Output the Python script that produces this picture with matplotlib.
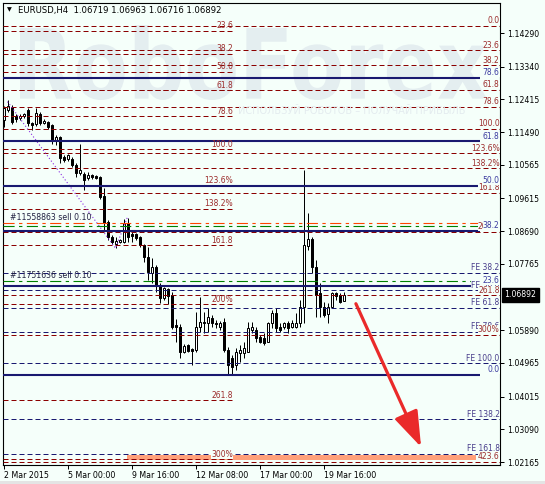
import numpy as np
import matplotlib
matplotlib.use('Agg')
import matplotlib.pyplot as plt
from matplotlib.patches import Rectangle, PathPatch
from matplotlib.textpath import TextPath
from matplotlib.font_manager import FontProperties
from matplotlib.transforms import Affine2D

plt.rcParams['font.family'] = ['DejaVu Sans']

# EURUSD H4 bars, index 0 = 2 Mar 2015 08:00
opens = [1.1183, 1.1211, 1.1220, 1.1194, 1.1189, 1.1194, 1.1211, 1.1175, 1.1172, 1.1200,
         1.1175, 1.1178, 1.1169, 1.1127, 1.1135, 1.1079, 1.1073, 1.1073, 1.1056, 1.1033,
         1.1031, 1.1019, 1.1028, 1.1025, 1.1022, 1.0968, 1.0895, 1.0853, 1.0833, 1.0838,
         1.0838, 1.0892, 1.0861, 1.0861, 1.0853, 1.0830, 1.0796, 1.0751, 1.0768, 1.0717,
         1.0680, 1.0706, 1.0689, 1.0604, 1.0598, 1.0528, 1.0547, 1.0536, 1.0533, 1.0598,
         1.0612, 1.0610, 1.0624, 1.0610, 1.0598, 1.0612, 1.0533, 1.0511, 1.0491, 1.0525,
         1.0525, 1.0528, 1.0590, 1.0590, 1.0570, 1.0567, 1.0556, 1.0610, 1.0638, 1.0598,
         1.0598, 1.0610, 1.0598, 1.0598, 1.0610, 1.0655, 1.0827, 1.0847, 1.0768, 1.0694,
         1.0655, 1.0635, 1.0655, 1.0694, 1.0689, 1.0672]
highs = [1.1223, 1.1240, 1.1226, 1.1200, 1.1200, 1.1203, 1.1217, 1.1178, 1.1217, 1.1206,
         1.1186, 1.1180, 1.1172, 1.1141, 1.1138, 1.1084, 1.1087, 1.1079, 1.1062, 1.1115,
         1.1036, 1.1036, 1.1031, 1.1028, 1.1025, 1.0991, 1.0901, 1.0858, 1.0853, 1.0847,
         1.0903, 1.0906, 1.0869, 1.0864, 1.0855, 1.0833, 1.0824, 1.0793, 1.0773, 1.0723,
         1.0711, 1.0709, 1.0697, 1.0621, 1.0607, 1.0550, 1.0550, 1.0539, 1.0641, 1.0683,
         1.0641, 1.0652, 1.0632, 1.0618, 1.0615, 1.0624, 1.0542, 1.0519, 1.0539, 1.0547,
         1.0556, 1.0612, 1.0612, 1.0598, 1.0576, 1.0581, 1.0612, 1.0646, 1.0652, 1.0610,
         1.0612, 1.0615, 1.0618, 1.0638, 1.0675, 1.1042, 1.0921, 1.0853, 1.0788, 1.0723,
         1.0669, 1.0666, 1.0697, 1.0697, 1.0694, 1.0696]
lows = [1.1163, 1.1206, 1.1172, 1.1178, 1.1183, 1.1189, 1.1166, 1.1155, 1.1166, 1.1169,
        1.1172, 1.1158, 1.1115, 1.1113, 1.1062, 1.1065, 1.1067, 1.1051, 1.1022, 1.1028,
        1.0985, 1.1014, 1.1016, 1.1016, 1.0960, 1.0872, 1.0844, 1.0833, 1.0821, 1.0836,
        1.0836, 1.0838, 1.0838, 1.0844, 1.0824, 1.0782, 1.0731, 1.0723, 1.0697, 1.0666,
        1.0675, 1.0663, 1.0592, 1.0556, 1.0511, 1.0525, 1.0528, 1.0491, 1.0528, 1.0584,
        1.0581, 1.0584, 1.0598, 1.0595, 1.0590, 1.0528, 1.0463, 1.0463, 1.0477, 1.0499,
        1.0511, 1.0528, 1.0581, 1.0556, 1.0553, 1.0547, 1.0556, 1.0595, 1.0584, 1.0584,
        1.0592, 1.0581, 1.0595, 1.0595, 1.0598, 1.0610, 1.0816, 1.0751, 1.0627, 1.0627,
        1.0627, 1.0610, 1.0652, 1.0675, 1.0666, 1.0672]
closes = [1.1217, 1.1223, 1.1178, 1.1186, 1.1194, 1.1200, 1.1175, 1.1169, 1.1203, 1.1175,
          1.1180, 1.1163, 1.1127, 1.1135, 1.1076, 1.1070, 1.1084, 1.1056, 1.1033, 1.1042,
          1.1014, 1.1028, 1.1022, 1.1019, 1.0966, 1.0892, 1.0853, 1.0838, 1.0841, 1.0844,
          1.0892, 1.0853, 1.0855, 1.0850, 1.0830, 1.0796, 1.0754, 1.0768, 1.0717, 1.0680,
          1.0709, 1.0686, 1.0598, 1.0598, 1.0528, 1.0545, 1.0530, 1.0530, 1.0598, 1.0612,
          1.0610, 1.0627, 1.0610, 1.0607, 1.0610, 1.0533, 1.0491, 1.0485, 1.0528, 1.0533,
          1.0539, 1.0595, 1.0598, 1.0567, 1.0556, 1.0553, 1.0610, 1.0638, 1.0595, 1.0590,
          1.0610, 1.0595, 1.0610, 1.0610, 1.0655, 1.0830, 1.0847, 1.0768, 1.0689, 1.0655,
          1.0632, 1.0655, 1.0694, 1.0686, 1.0669, 1.06892]

date_ticks = [0, 16, 32, 48, 64, 80]
date_labels = ['2 Mar 2015', '5 Mar 00:00', '9 Mar 16:00', '12 Mar 08:00', '17 Mar 00:00', '19 Mar 16:00']
price_ticks = [1.14290, 1.13340, 1.12415, 1.11490, 1.10565, 1.09615, 1.08690, 1.07765,
               1.05890, 1.04965, 1.04015, 1.03090, 1.02165]
last_price = 1.06892
header = 'EURUSD,H4  1.06719 1.06963 1.06716 1.06892'

# fibo retracement A (ends on 12 Mar)
fibA_0, fibA_100 = 1.15378, 1.10998
fibA_levels = [23.6, 38.2, 50.0, 61.8, 78.6, 100.0, 123.6, 138.2, 161.8, 200.0, 261.8, 300.0]
fibA_text = ['23.6', '38.2', '50.0', '61.8', '78.6', '100.0', '123.6%', '138.2%', '161.8', '200%', '261.8', '300%']
fibA_end = 57.4

# fibo retracement B (ray to the right)
fibB_0, fibB_100 = 1.14488, 1.11579
fibB_levels = [0.0, 23.6, 38.2, 61.8, 78.6, 100.0, 123.6, 138.2, 161.8, 200.0, 261.8, 300.0, 423.6]
fibB_text = ['0.0', '23.6', '38.2', '61.8', '78.6', '100.0', '123.6%', '138.2%', '161.8', '200%', '261.8', '300%', '423.6']

# fibo C (navy solid)
fibC_0, fibC_100 = 1.04626, 1.15305
fibC_levels = [0.0, 23.6, 38.2, 50.0, 61.8, 78.6]
fibC_text = ['0.0', '23.6', '38.2', '50.0', '61.8', '78.6']
fibC_end = 119.1

# fibo expansion
fe_0, fe_100 = 1.09088, 1.04951
fe_levels = [38.2, 50.0, 61.8, 78.6, 100.0, 138.2, 161.8]
fe_text = ['FE 38.2', 'FE 50.0', 'FE 61.8', 'FE 78.6', 'FE 100.0', 'FE 138.2', 'FE 161.8']
fe_pts_x = [1, 28, 31]
fe_pts_y = [1.1235, 1.0821, 1.0909]

order_text = ['#11558863 sell 0.10', '#11751636 sell 0.10']
order_price = [1.08921, 1.07287]
order_color = ['#ff4500', '#008000']
extra_green = 1.08836

target_box = (30.9, 118.1, 1.0222, 1.0237)
arrow_from = (88.1, 1.0664)
arrow_to = (104.4, 1.0259)

bg = '#f5fffa'
red_line = '#8b0000'
red_text = '#9b2b2b'
navy = '#191970'
navy_text = '#3b3ba0'
fe_txt = '#483d8b'

W, H = 545, 484
fig = plt.figure(figsize=(W / 100, H / 100), dpi=100, facecolor=bg)
ax = fig.add_axes([3 / W, 19 / H, 497 / W, 462 / H])
ax.set_facecolor(bg)
ax.set_xlim(-0.125, 124.125)
ax.set_ylim(1.02082, 1.15138)

# watermark
tp = TextPath((0, 0), 'RoboForex', size=100, prop=FontProperties(family='DejaVu Sans', weight='bold'))
ext = tp.get_extents()
x0, x1, yb, yt = 20, 487, H - 100, H - 25
tr = Affine2D().translate(-ext.x0, -ext.y0).scale((x1 - x0) / ext.width, (yt - yb) / ext.height).translate(x0, yb)
wm = PathPatch(tp, facecolor='#e4eef0', edgecolor='none', zorder=0.5)
wm.set_transform(tr)
ax.add_patch(wm)
fig.text(238 / W, 1 - 111 / H, 'ИСПОЛЬЗУЙ РОБОТОВ – ПОЛУЧАЙ ПРИБЫЛЬ', fontsize=7.0,
         color='#e4ecef', va='center', ha='left', zorder=0.6)

dash = (0, (5, 3))
dashdot = (0, (10, 4, 3, 4))
xl, xr = ax.get_xlim()
box = dict(boxstyle='square,pad=0.02', fc=bg, ec='none')


def lbl(x, y, s, color, z=6, boxed=False):
    kw = dict(bbox=box) if boxed else {}
    ax.annotate(s, xy=(x, y), xytext=(0, 0.5), textcoords='offset points', ha='right', va='bottom',
                fontsize=5.5, color=color, zorder=z, **kw)


# fibo A
for lev, t in zip(fibA_levels, fibA_text):
    p = fibA_0 - (fibA_0 - fibA_100) * lev / 100
    ax.hlines(p, xl, fibA_end, color=red_line, lw=0.72, linestyle=dash, zorder=3)
    lbl(fibA_end, p, t, red_text, z=5.5, boxed=(t == '300%'))

# fibo B
for lev, t in zip(fibB_levels, fibB_text):
    p = fibB_0 - (fibB_0 - fibB_100) * lev / 100
    ax.hlines(p, xl, xr, color=red_line, lw=0.72, linestyle=dash, zorder=3)
    lbl(xr - 0.1, p, t, red_text, z=5.5, boxed=True)

# fibo expansion
for lev, t in zip(fe_levels, fe_text):
    p = fe_0 - (fe_0 - fe_100) * lev / 100
    ax.hlines(p, xl, xr, color=navy, lw=0.72, linestyle=dash, zorder=3)
    lbl(xr - 0.1, p, t, fe_txt, z=5, boxed=True)
ax.plot(fe_pts_x, fe_pts_y, color='#8a2be2', lw=0.8, linestyle=(0, (1, 2)), zorder=3)

# fibo C
for lev, t in zip(fibC_levels, fibC_text):
    p = fibC_0 + (fibC_100 - fibC_0) * lev / 100
    ax.hlines(p, xl, fibC_end, color=navy, lw=1.5, zorder=3.2)
    lbl(xr - 0.1, p, t, navy_text, z=6, boxed=True)

# order lines
ax.hlines(order_price[0], xl, fibC_end, color=order_color[0], lw=0.8, linestyle=dashdot, zorder=3)
ax.hlines(extra_green, xl, fibC_end, color='#008000', lw=0.8, linestyle=dashdot, zorder=3)
ax.hlines(order_price[1], xl, fibC_end, color=order_color[1], lw=0.8, linestyle=dashdot, zorder=3)
for t, p in zip(order_text, order_price):
    ax.annotate(t, xy=(1.6, p), xytext=(0, 0.6), textcoords='offset points', ha='left', va='bottom',
                fontsize=5.6, color='#202040', zorder=6)

# target zone
ax.add_patch(Rectangle((target_box[0], target_box[2]), target_box[1] - target_box[0],
                       target_box[3] - target_box[2], facecolor='#ffa07a', edgecolor='none', zorder=2.8))

# candles
x = np.arange(len(opens))
o, h, l, c = map(np.array, (opens, highs, lows, closes))
up = c >= o
ax.vlines(x, l, h, color='black', lw=0.72, zorder=2)
ax.bar(x, np.abs(c - o), width=0.5, bottom=np.minimum(o, c), color=np.where(up, 'white', 'black'),
       edgecolor='black', lw=0.72, zorder=2.5)

# arrow
ax.annotate('', xy=arrow_to, xytext=arrow_from,
            arrowprops=dict(arrowstyle='-|>,head_length=1.1,head_width=0.38', lw=2.3,
                            color='#ea2a2a', mutation_scale=20, shrinkA=0, shrinkB=0), zorder=7)

# axes
for s in ax.spines.values():
    s.set_color('black')
    s.set_linewidth(0.8)
ax.yaxis.tick_right()
ax.set_yticks(price_ticks)
ax.set_yticklabels([f'{v:.5f}' for v in price_ticks])
ax.tick_params(axis='y', length=3, width=0.72, pad=2, labelsize=5.6, colors='black')
ax.set_xticks(date_ticks)
ax.set_xticklabels(date_labels)
ax.tick_params(axis='x', length=3, width=0.72, pad=1.5, labelsize=5.7)
for t in ax.get_xticklabels():
    t.set_ha('left')
ax.annotate(f'{last_price:.5f}', xy=(1, last_price), xycoords=('axes fraction', 'data'),
            xytext=(3.2, 0), textcoords='offset points', ha='left', va='center', color='white',
            fontsize=5.6, annotation_clip=False,
            bbox=dict(boxstyle='square,pad=0.3', fc='black', ec='black'))

# header
fig.text(7 / W, 1 - 10 / H, '▼', fontsize=4.5, va='center', ha='left', color='black')
fig.text(18 / W, 1 - 10 / H, header, fontsize=6.1, va='center', ha='left', color='black')

fig.patches.append(Rectangle((0, 0), 1, 3 / H, transform=fig.transFigure, facecolor='#e4e4e4',
                             edgecolor='none'))

fig.savefig('out.png', dpi=100, facecolor=bg)
